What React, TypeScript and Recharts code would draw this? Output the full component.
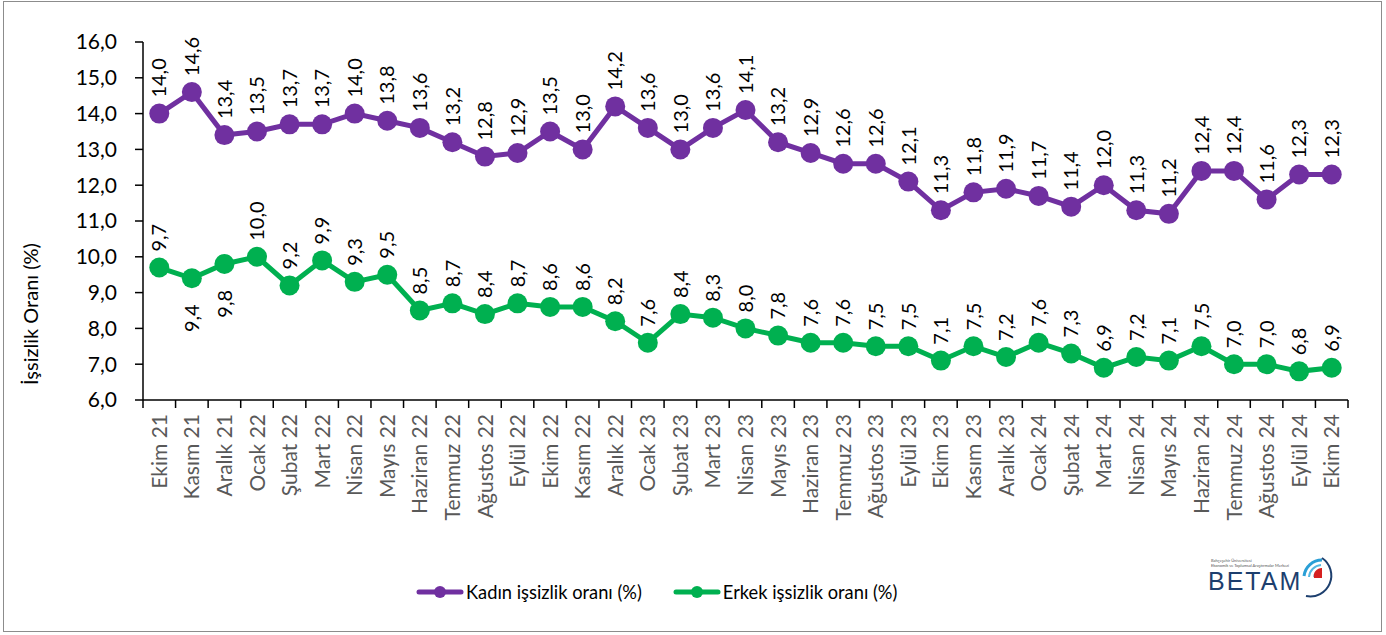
import React from 'react';
import { LineChart, Line, XAxis, YAxis, LabelList } from 'recharts';

const CATEGORIES = [
  'Ekim 21', 'Kasım 21', 'Aralık 21', 'Ocak 22', 'Şubat 22', 'Mart 22', 'Nisan 22', 'Mayıs 22',
  'Haziran 22', 'Temmuz 22', 'Ağustos 22', 'Eylül 22', 'Ekim 22', 'Kasım 22', 'Aralık 22',
  'Ocak 23', 'Şubat 23', 'Mart 23', 'Nisan 23', 'Mayıs 23', 'Haziran 23', 'Temmuz 23',
  'Ağustos 23', 'Eylül 23', 'Ekim 23', 'Kasım 23', 'Aralık 23', 'Ocak 24', 'Şubat 24',
  'Mart 24', 'Nisan 24', 'Mayıs 24', 'Haziran 24', 'Temmuz 24', 'Ağustos 24', 'Eylül 24', 'Ekim 24',
];

const WOMEN = [
  14.0, 14.6, 13.4, 13.5, 13.7, 13.7, 14.0, 13.8, 13.6, 13.2, 12.8, 12.9, 13.5, 13.0, 14.2,
  13.6, 13.0, 13.6, 14.1, 13.2, 12.9, 12.6, 12.6, 12.1, 11.3, 11.8, 11.9, 11.7, 11.4, 12.0,
  11.3, 11.2, 12.4, 12.4, 11.6, 12.3, 12.3,
];

const MEN = [
  9.7, 9.4, 9.8, 10.0, 9.2, 9.9, 9.3, 9.5, 8.5, 8.7, 8.4, 8.7, 8.6, 8.6, 8.2,
  7.6, 8.4, 8.3, 8.0, 7.8, 7.6, 7.6, 7.5, 7.5, 7.1, 7.5, 7.2, 7.6, 7.3, 6.9,
  7.2, 7.1, 7.5, 7.0, 7.0, 6.8, 6.9,
];

// men's labels drawn under the point instead of above
const MEN_BELOW = [1, 2];

const Y_TICKS = [6, 7, 8, 9, 10, 11, 12, 13, 14, 15, 16];

const SERIES_NAMES = ['Kadın işsizlik oranı (%)', 'Erkek işsizlik oranı (%)'];
const Y_TITLE = 'İşsizlik Oranı (%)';

const PURPLE = '#7030A0';
const GREEN = '#00B050';
const FONT = 'Lato, "Open Sans", sans-serif';

const data = CATEGORIES.map((month, i) => ({ month, kadin: WOMEN[i], erkek: MEN[i] }));

const PLOT_LEFT = 143;
const PLOT_RIGHT = 1348;
const BAND = (PLOT_RIGHT - PLOT_LEFT) / CATEGORIES.length;

const fmt = (v: number) => v.toFixed(1).replace('.', ',');

const XTick = (props: any) => {
  const { x, y, payload, index } = props;
  const half = BAND / 2;
  const ty = y + 14;
  return (
    <g>
      <line x1={x - half} x2={x - half} y1={y} y2={y + 8} stroke="#000" strokeWidth={1.5} />
      {index === CATEGORIES.length - 1 && (
        <line x1={x + half} x2={x + half} y1={y} y2={y + 8} stroke="#000" strokeWidth={1.5} />
      )}
      <text
        x={x}
        y={ty}
        transform={`rotate(-90, ${x}, ${ty})`}
        textAnchor="end"
        dy="0.36em"
        fill="#595959"
        fontSize={21}
        fontFamily={FONT}
      >
        {payload.value}
      </text>
    </g>
  );
};

const makeLabel = (below: number[]) => (props: any) => {
  const { x, y, value, index } = props;
  const isBelow = below.includes(index);
  const ty = isBelow ? y + 26 : y - 16;
  return (
    <text
      x={x}
      y={ty}
      transform={`rotate(-90, ${x}, ${ty})`}
      textAnchor={isBelow ? 'end' : 'start'}
      dy="0.36em"
      fill="#000"
      fontSize={20}
      fontFamily={FONT}
    >
      {fmt(Number(value))}
    </text>
  );
};

function LegendItem({ color, label }: { color: string; label: string }) {
  return (
    <div style={{ display: 'flex', alignItems: 'center', marginRight: 31 }}>
      <svg width={48} height={14} style={{ marginRight: 2 }}>
        <line x1={3} x2={45} y1={7} y2={7} stroke={color} strokeWidth={5} strokeLinecap="round" />
        <circle cx={24} cy={7} r={6} fill={color} />
      </svg>
      <span style={{ fontSize: 18.3, color: '#000' }}>{label}</span>
    </div>
  );
}

export default function App() {
  return (
    <div
      style={{
        position: 'absolute',
        left: 0,
        top: 0,
        width: 1386,
        height: 635,
        background: '#fff',
        fontFamily: FONT,
      }}
    >
      <div
        style={{
          position: 'absolute',
          left: 3,
          top: 1,
          width: 1377,
          height: 629,
          border: '1.5px solid #8c8c8c',
        }}
      />
      <div style={{ position: 'absolute', left: 0, top: 0 }}>
        <LineChart
          width={1386}
          height={635}
          data={data}
          margin={{ top: 42, right: 1386 - PLOT_RIGHT, left: PLOT_LEFT - 60, bottom: 105 }}
        >
          <XAxis
            dataKey="month"
            scale="band"
            interval={0}
            height={130}
            tickLine={false}
            tickSize={0}
            tickMargin={0}
            axisLine={{ stroke: '#000', strokeWidth: 1.5 }}
            tick={<XTick />}
          />
          <YAxis
            width={60}
            domain={[6, 16]}
            ticks={Y_TICKS}
            tickFormatter={fmt}
            tickSize={8}
            tickMargin={18}
            axisLine={{ stroke: '#000', strokeWidth: 1.5 }}
            tickLine={{ stroke: '#000', strokeWidth: 1.5 }}
            tick={{ fill: '#000', fontSize: 21, fontFamily: FONT }}
          />
          <Line
            dataKey="kadin"
            name={SERIES_NAMES[0]}
            stroke={PURPLE}
            strokeWidth={5}
            dot={{ r: 10, fill: PURPLE, stroke: PURPLE, strokeWidth: 0 }}
            activeDot={false}
            isAnimationActive={false}
          >
            <LabelList dataKey="kadin" content={makeLabel([])} />
          </Line>
          <Line
            dataKey="erkek"
            name={SERIES_NAMES[1]}
            stroke={GREEN}
            strokeWidth={5}
            dot={{ r: 10, fill: GREEN, stroke: GREEN, strokeWidth: 0 }}
            activeDot={false}
            isAnimationActive={false}
          >
            <LabelList dataKey="erkek" content={makeLabel(MEN_BELOW)} />
          </Line>
        </LineChart>
      </div>

      {/* y axis title */}
      <div
        style={{
          position: 'absolute',
          left: 30,
          top: 314,
          transform: 'translate(-50%, -50%) rotate(-90deg)',
          fontSize: 20,
          whiteSpace: 'nowrap',
          color: '#000',
        }}
      >
        {Y_TITLE}
      </div>

      {/* legend */}
      <div
        style={{
          position: 'absolute',
          left: 416,
          top: 579,
          display: 'flex',
          alignItems: 'center',
          height: 26,
        }}
      >
        <LegendItem color={PURPLE} label={SERIES_NAMES[0]} />
        <LegendItem color={GREEN} label={SERIES_NAMES[1]} />
      </div>

      {/* BETAM mark */}
      <div style={{ position: 'absolute', left: 1208, top: 556, width: 140, height: 50 }}>
        <div style={{ fontSize: 4, color: '#555', lineHeight: '5px', marginLeft: 3, marginTop: 2 }}>
          Bahçeşehir Üniversitesi
          <br />
          Ekonomik ve Toplumsal Araştırmalar Merkezi
        </div>
        <div
          style={{
            fontSize: 25,
            color: '#1d3f6e',
            letterSpacing: 2,
            lineHeight: '26px',
            fontFamily: '"Liberation Sans", Arial, sans-serif',
          }}
        >
          BETAM
        </div>
        <svg
          width={46}
          height={50}
          style={{ position: 'absolute', left: 88, top: 0, overflow: 'visible' }}
        >
          <path d="M8 20 A18 18 0 0 1 26 4" stroke="#2a9fd6" strokeWidth={3} fill="none" />
          <path d="M13 21 A13 13 0 0 1 25 9" stroke="#56b7e0" strokeWidth={2} fill="none" />
          <path d="M18 21 A8 8 0 0 1 25 14" stroke="#8fd0ec" strokeWidth={2} fill="none" />
          <path d="M26 12 L26 22 L18 22 A8 8 0 0 1 26 12 Z" fill="#d62020" />
          <path d="M26 2 A21 21 0 0 1 10 40" stroke="#1d3f6e" strokeWidth={2} fill="none" />
        </svg>
      </div>
    </div>
  );
}
